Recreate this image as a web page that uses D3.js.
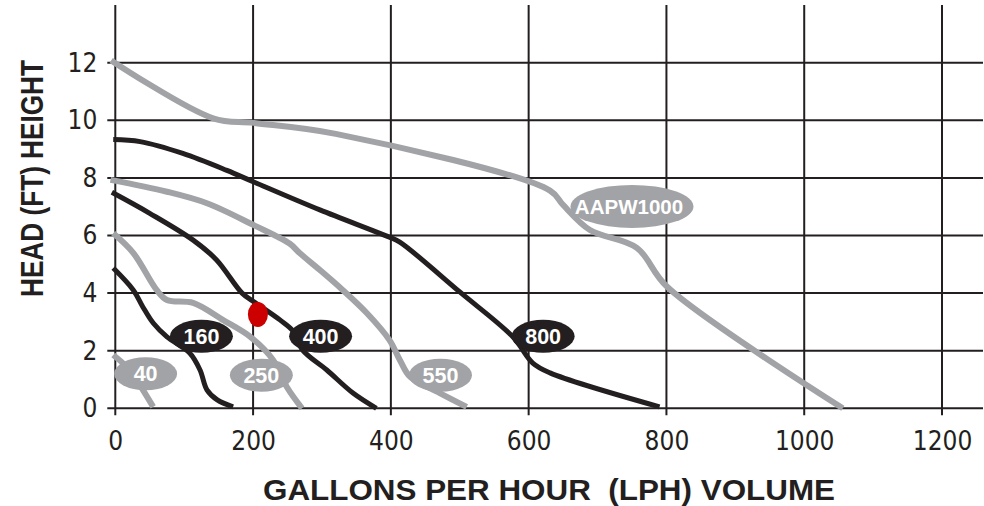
<!DOCTYPE html>
<html>
<head>
<meta charset="utf-8">
<script src="https://cdn.jsdelivr.net/npm/d3@7"></script>
<style>
  html, body { margin: 0; padding: 0; background: #fff; }
  svg { display: block; }
  .tick text { font-family: "Liberation Sans Narrow", "Arial Narrow", "DejaVu Sans Condensed", sans-serif; font-stretch: condensed; }
</style>
</head>
<body>
<svg id="chart" width="984" height="506"></svg>
<script>
// ---------- data ----------
const xTicks = [0, 200, 400, 600, 800, 1000, 1200];
const yTicks = [0, 2, 4, 6, 8, 10, 12];
const xTitle = "GALLONS PER HOUR  (LPH) VOLUME";
const yTitle = "HEAD (FT) HEIGHT";

// curves: [gallons per hour, head ft]
const curveAAPW1000 = [[-6, 12.08], [142, 10.07], [201, 9.91], [320, 9.53], [631, 7.56], [650, 7.06], [689, 6.19], [757, 5.57], [801, 4.22], [1056, 0]];
const curve800 = [[-3, 9.33], [36, 9.26], [98, 8.85], [162, 8.26], [201, 7.86], [297, 6.89], [398, 5.94], [413, 5.77], [500, 4.04], [577, 2.48], [606, 1.57], [631, 1.23], [790, 0.05]];
const curve550 = [[-7, 7.93], [75, 7.52], [133, 7.12], [201, 6.36], [253, 5.72], [268, 5.38], [297, 4.8], [330, 4.11], [365, 3.31], [398, 2.37], [413, 1.68], [428, 1.09], [471, 0.53], [510, 0.05]];
const curve400 = [[-5, 7.5], [50, 6.77], [113, 5.84], [147, 5.15], [184, 4.0], [200, 3.72], [239, 3.07], [259, 2.66], [272, 2.02], [307, 1.33], [345, 0.53], [379, 0]];
const curve250 = [[-3, 6.08], [26, 5.4], [60, 4.11], [75, 3.76], [113, 3.66], [156, 3.07], [196, 2.48], [229, 1.68], [249, 0.74], [271, 0]];
const curve160 = [[-3, 4.87], [26, 4.11], [40, 3.52], [55, 2.96], [75, 2.48], [108, 1.92], [123, 1.33], [133, 0.64], [148, 0.29], [171, 0.05]];
const curve40 = [[-3, 1.85], [21, 1.33], [40, 0.64], [55, 0.05]];

const seriesNames = ["AAPW1000", "800", "550", "400", "250", "160", "40"];
const seriesShade = ["gray", "black", "gray", "black", "gray", "black", "gray"];
const seriesData = [curveAAPW1000, curve800, curve550, curve400, curve250, curve160, curve40];
// label anchor for each series (data units)
const labelX = [750, 621, 472, 298, 212, 125, 44];
const labelY = [7.01, 2.5, 1.15, 2.5, 1.15, 2.5, 1.2];

const markerPoint = [[207, 3.26]];

// ---------- styles ----------
const INK = "#231f20";
const GRAY = "#a2a3a6";
const RED = "#cc0000";

// ---------- scales ----------
const svg = d3.select("#chart");
const x = d3.scaleLinear().domain([0, 1200]).range([115.3, 942]);
const y = d3.scaleLinear().domain([0, 12]).range([408.3, 62.7]);

// grid
const grid = svg.append("g");
grid.selectAll("line.v").data(xTicks).join("line")
  .attr("x1", d => x(d)).attr("x2", d => x(d))
  .attr("y1", 5).attr("y2", y(0) + 7)
  .attr("stroke", INK).attr("stroke-width", 2);
grid.selectAll("line.h").data(yTicks).join("line")
  .attr("x1", x(0) - 8).attr("x2", 983)
  .attr("y1", d => y(d)).attr("y2", d => y(d))
  .attr("stroke", INK).attr("stroke-width", 2);

// axes (labels only)
const xAxis = svg.append("g").attr("transform", `translate(0,${y(0)})`)
  .call(d3.axisBottom(x).tickValues(xTicks).tickSize(0).tickPadding(23).tickFormat(d3.format("d")));
const yAxis = svg.append("g").attr("transform", `translate(${x(0)},0)`)
  .call(d3.axisLeft(y).tickValues(yTicks).tickSize(0).tickPadding(18).tickFormat(d3.format("d")));
[xAxis, yAxis].forEach(a => {
  a.select(".domain").remove();
  a.selectAll(".tick text").attr("fill", INK).attr("font-size", 26);
});

// curves
const line = d3.line().x(d => x(d[0])).y(d => y(d[1])).curve(d3.curveCatmullRom.alpha(0.5));
const curves = svg.append("g").attr("fill", "none").attr("stroke-linejoin", "round");
seriesData.forEach((pts, i) => {
  curves.append("path")
    .attr("d", line(pts))
    .attr("stroke", seriesShade[i] === "gray" ? GRAY : INK)
    .attr("stroke-width", seriesShade[i] === "gray" ? 6 : 5);
});

// labels
const labels = svg.append("g");
seriesNames.forEach((name, i) => {
  const cx = x(labelX[i]), cy = y(labelY[i]);
  const wide = name.length > 4;
  labels.append("ellipse")
    .attr("cx", cx).attr("cy", cy)
    .attr("rx", wide ? 61.5 : 31.5).attr("ry", wide ? 21.5 : 16.5)
    .attr("fill", seriesShade[i] === "gray" ? GRAY : INK);
  labels.append("text")
    .attr("x", cx - (wide ? 3 : 0)).attr("y", cy)
    .attr("dy", "0.36em")
    .attr("text-anchor", "middle")
    .attr("font-family", "'Liberation Sans', Arial, sans-serif")
    .attr("font-weight", "bold")
    .attr("font-size", wide ? 20.5 : 21.5)
    .attr("fill", "#ffffff")
    .text(name);
});

// red marker
svg.append("g").selectAll("ellipse").data(markerPoint).join("ellipse")
  .attr("cx", d => x(d[0])).attr("cy", d => y(d[1]))
  .attr("rx", 10).attr("ry", 12.5)
  .attr("fill", RED);

// titles
svg.append("text")
  .attr("x", 549).attr("y", 500)
  .attr("text-anchor", "middle")
  .attr("font-family", "'Liberation Sans', Arial, sans-serif")
  .attr("font-weight", "bold").attr("font-size", 30)
  .attr("textLength", 572).attr("lengthAdjust", "spacingAndGlyphs")
  .attr("fill", INK)
  .style("white-space", "pre")
  .text(xTitle);

svg.append("text")
  .attr("transform", "translate(42.5,178.5) rotate(-90)")
  .attr("text-anchor", "middle")
  .attr("font-family", "'Liberation Sans', Arial, sans-serif")
  .attr("font-weight", "bold").attr("font-size", 31)
  .attr("textLength", 237).attr("lengthAdjust", "spacingAndGlyphs")
  .attr("fill", INK)
  .text(yTitle);
</script>
</body>
</html>
